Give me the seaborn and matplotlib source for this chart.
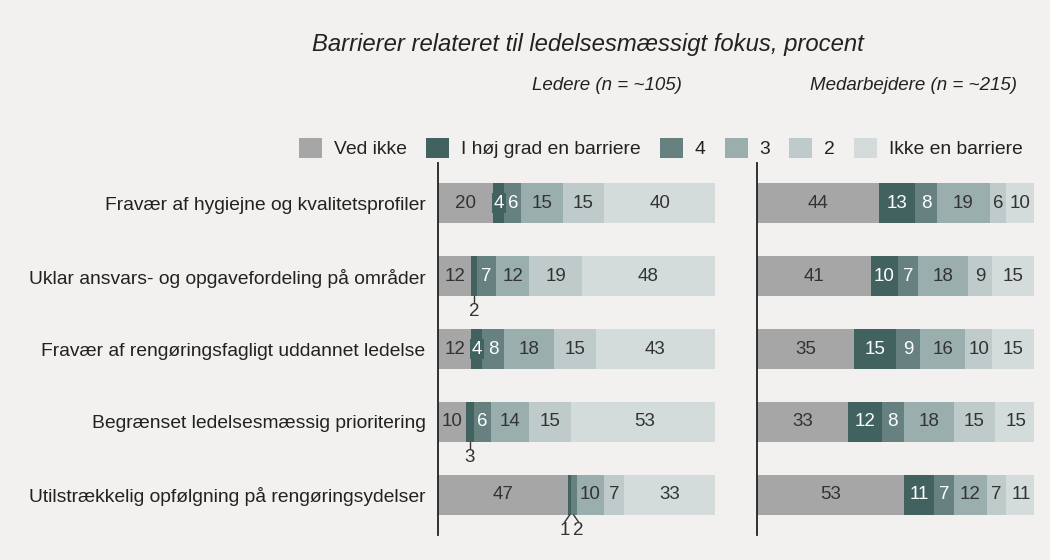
# Diverging-style stacked bars: barriers related to management focus, leaders vs employees.

import numpy as np
import pandas as pd
import matplotlib
matplotlib.use("Agg")
import matplotlib.pyplot as plt
from matplotlib.patches import Patch
import seaborn as sns

rows = [
    "Fravær af hygiejne og kvalitetsprofiler",
    "Uklar ansvars- og opgavefordeling på områder",
    "Fravær af rengøringsfagligt uddannet ledelse",
    "Begrænset ledelsesmæssig prioritering",
    "Utilstrækkelig opfølgning på rengøringsydelser",
]
categories = ["Ved ikke", "I høj grad en barriere", "4", "3", "2", "Ikke en barriere"]

# Ledere (n = ~105)
ledere_ved_ikke = [20, 12, 12, 10, 47]
ledere_hoj_grad = [4, 2, 4, 3, 1]
ledere_4 = [6, 7, 8, 6, 2]
ledere_3 = [15, 12, 18, 14, 10]
ledere_2 = [15, 19, 15, 15, 7]
ledere_ikke = [40, 48, 43, 53, 33]

# Medarbejdere (n = ~215)
medarb_ved_ikke = [44, 41, 35, 33, 53]
medarb_hoj_grad = [13, 10, 15, 12, 11]
medarb_4 = [8, 7, 9, 8, 7]
medarb_3 = [19, 18, 16, 18, 12]
medarb_2 = [6, 9, 10, 15, 7]
medarb_ikke = [10, 15, 15, 15, 11]

colors = ["#a6a6a6", "#41625f", "#66817f", "#9aafad", "#bfcbca", "#d4dcdb"]
text_colors = ["#333333", "white", "white", "#333333", "#333333", "#333333"]
bg = "#f2f1f0"

sns.set_theme(style="white")
plt.rcParams["font.family"] = ["Liberation Sans", "DejaVu Sans"]

BAR_H = 0.55
FS = 13.5
FS_LAB = 13.9


def draw_panel(ax, values, show_labels):
    df = pd.DataFrame(dict(zip(categories, values)), index=rows)
    cum = df.cumsum(axis=1)
    # draw cumulative totals from the longest down so each segment shows
    for cat, color in reversed(list(zip(categories, colors))):
        sns.barplot(x=cum[cat].values, y=rows, color=color, saturation=1,
                    width=BAR_H, orient="h", errorbar=None, linewidth=0, ax=ax)

    for i, row in enumerate(rows):
        start = 0
        small = []
        for j, cat in enumerate(categories):
            v = df.loc[row, cat]
            mid = start + v / 2
            if v >= 4:
                kw = {}
                if v == 4:
                    kw["bbox"] = dict(boxstyle="square,pad=0.1", fc=colors[j], ec="none")
                ax.text(mid, i, str(v), ha="center", va="center",
                        color=text_colors[j], fontsize=FS, **kw)
            else:
                small.append((mid, v))
            start += v
        if small:
            n = len(small)
            center = np.mean([m for m, _ in small])
            for k, (mid, v) in enumerate(small):
                lx = mid if n == 1 else center + (k - (n - 1) / 2) * 5.0
                ax.plot([mid, lx], [i + BAR_H / 2, i + 0.37], color="#333333", lw=1)
                ax.text(lx, i + 0.48, str(v), ha="center", va="center",
                        color="#333333", fontsize=FS)

    ax.set_xlim(0, 100)
    ax.set_ylim(4.548, -0.548)
    ax.set_facecolor(bg)
    ax.set_xlabel("")
    ax.set_ylabel("")
    ax.set_xticks([])
    for s in ["top", "right", "bottom"]:
        ax.spines[s].set_visible(False)
    ax.spines["left"].set_color("#222222")
    ax.spines["left"].set_linewidth(1.3)
    if show_labels:
        ax.tick_params(axis="y", left=False, length=0, pad=9, labelsize=FS_LAB, labelcolor="#222222")
    else:
        ax.set_yticks([])


fig = plt.figure(figsize=(10.5, 5.6), dpi=100, facecolor=bg)
ax_l = fig.add_axes([438 / 1050, 1 - 535 / 560, 277 / 1050, 372 / 560])
ax_r = fig.add_axes([757 / 1050, 1 - 535 / 560, 277 / 1050, 372 / 560])

draw_panel(ax_l, [ledere_ved_ikke, ledere_hoj_grad, ledere_4, ledere_3, ledere_2, ledere_ikke], True)
draw_panel(ax_r, [medarb_ved_ikke, medarb_hoj_grad, medarb_4, medarb_3, medarb_2, medarb_ikke], False)

fig.text(588 / 1050, 1 - 44 / 560, "Barrierer relateret til ledelsesmæssigt fokus, procent",
         ha="center", va="center", fontsize=17.2, style="italic", color="#222222")
fig.text(607 / 1050, 1 - 86 / 560, "Ledere (n = ~105)", ha="center", va="center",
         fontsize=FS, style="italic", color="#222222")
fig.text(914 / 1050, 1 - 86 / 560, "Medarbejdere (n = ~215)", ha="center", va="center",
         fontsize=FS, style="italic", color="#222222")

handles = [Patch(facecolor=c, edgecolor="none") for c in colors]
fig.legend(handles, categories, ncol=6, loc="center right",
           bbox_to_anchor=(1040 / 1050, 1 - 148 / 560), frameon=False,
           handlelength=1.2, handleheight=1.2, columnspacing=1.0, handletextpad=0.6,
           fontsize=FS_LAB, labelcolor="#222222")

fig.savefig("out.png", dpi=100, facecolor=bg)
plt.close(fig)
